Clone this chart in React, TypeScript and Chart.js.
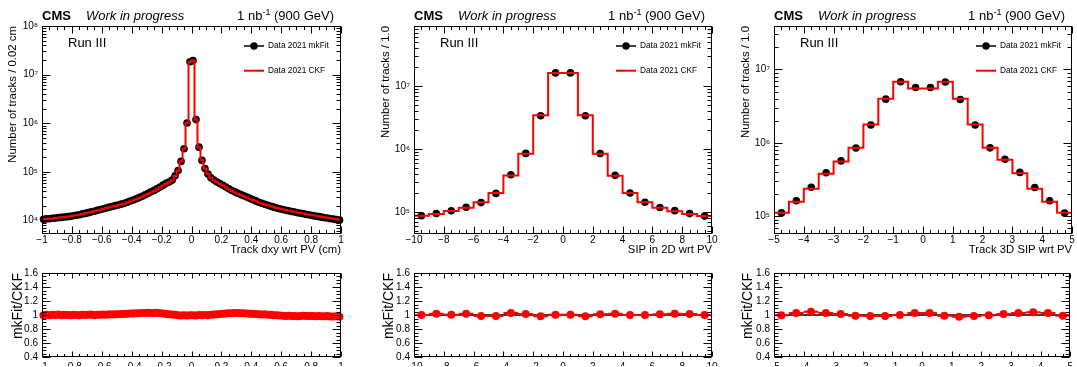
import React, { useEffect, useRef } from 'react';
import { Chart, registerables } from 'chart.js';

Chart.register(...registerables);

const FONT = "'Liberation Sans', Arial, Helvetica, sans-serif";
const RED = '#ff0000';

// ---- Track dxy wrt PV: 100 bins of 0.02 cm in [-1, 1] ----
const dxyCkf = [
  10700, 10840, 10960, 11140, 11300, 11480, 11700, 11890, 12100, 12300,
  12590, 12940, 13300, 13710, 14130, 14550, 15070, 15600, 16220, 16830,
  17500, 18200, 18790, 19450, 20090, 20800, 21530, 22390, 23550, 24770,
  26120, 27540, 29110, 30900, 33110, 35480, 38020, 40740, 44160, 47860,
  52480, 57540, 61660, 67610, 83180, 107200, 166000, 302000, 1023000, 18500000,
  19500000, 1200000, 324000, 174000, 117500, 91200, 75900, 67600, 61700, 56900,
  52500, 47900, 44200, 40700, 38000, 35500, 33500, 31600, 29900, 28200,
  26600, 25100, 23700, 22600, 21600, 20700, 19700, 19000, 18300, 17700,
  17100, 16600, 16200, 15700, 15300, 14800, 14400, 14000, 13600, 13200,
  12900, 12600, 12300, 12000, 11700, 11500, 11200, 11000, 10700, 10500,
];
const dxyRatio = [
  0.995, 1.005, 0.998, 1.004, 1.0, 1.006, 0.997, 1.003, 1.0, 0.996,
  1.004, 1.001, 0.997, 1.005, 0.999, 1.003, 1.006, 0.998, 1.004, 1.002,
  1.007, 1.003, 1.009, 1.006, 1.012, 1.01, 1.015, 1.013, 1.018, 1.022,
  1.02, 1.026, 1.024, 1.029, 1.027, 1.032, 1.03, 1.027, 1.031, 1.025,
  1.022, 1.016, 1.012, 1.006, 1.003, 0.998, 0.994, 0.997, 0.992, 0.996,
  0.998, 0.994, 0.999, 0.995, 1.0, 0.997, 1.004, 1.008, 1.012, 1.016,
  1.018, 1.022, 1.026, 1.024, 1.029, 1.027, 1.024, 1.026, 1.021, 1.018,
  1.019, 1.014, 1.011, 1.008, 1.009, 1.004, 1.002, 0.998, 0.996, 0.993,
  0.989, 0.985, 0.988, 0.984, 0.987, 0.983, 0.986, 0.988, 0.984, 0.987,
  0.985, 0.982, 0.986, 0.983, 0.981, 0.984, 0.98, 0.978, 0.981, 0.975,
];

// ---- SIP in 2D wrt PV: 20 bins of width 1 in [-10, 10] ----
const sip2dCkf = [
  87000, 93000, 104000, 117000, 143000, 200000, 380000, 840000, 3440000, 16100000,
  16100000, 3440000, 840000, 375000, 200000, 143000, 117000, 103000, 93000, 86000,
];
const sip2dRatio = [
  1.0, 1.019, 1.005, 1.019, 0.986, 0.986, 1.028, 1.014, 0.981, 1.005,
  1.005, 0.981, 1.009, 1.019, 1.0, 1.0, 1.009, 1.019, 1.014, 1.0,
];

// ---- Track 3D SIP wrt PV: 20 bins of width 0.5 in [-5, 5] ----
const sip3dCkf = [
  112000, 158000, 238000, 380000, 560000, 860000, 1780000, 4000000, 6800000, 5500000,
  5500000, 6800000, 4000000, 1780000, 860000, 590000, 385000, 238000, 158000, 112000,
];
const sip3dRatio = [
  0.995, 1.03, 1.045, 1.03, 1.015, 0.99, 0.985, 0.985, 1.0, 1.03,
  1.03, 0.99, 0.975, 0.985, 0.995, 1.015, 1.03, 1.04, 1.03, 0.99,
];

// ---- tick labels ----
const dxyTicks = [-1, -0.8, -0.6, -0.4, -0.2, 0, 0.2, 0.4, 0.6, 0.8, 1];
const sip2dTicks = [-10, -8, -6, -4, -2, 0, 2, 4, 6, 8, 10];
const sip3dTicks = [-5, -4, -3, -2, -1, 0, 1, 2, 3, 4, 5];
const ratioTicks = [0.4, 0.6, 0.8, 1, 1.2, 1.4, 1.6];
const decadeTicks = [1e4, 1e5, 1e6, 1e7, 1e8];

const legendLabels = ['Data 2021 mkFit', 'Data 2021 CKF'];

// ---- pad geometry (page pixels) ----
const MAIN_H = 262;
const RATIO_H = 105;
const MAIN_TOP = 26;
const MAIN_BOTTOM = 234;
const RATIO_TOP = 273;
const RATIO_BOTTOM = 358;

interface Panel {
  left: number;
  width: number;
  frameL: number;
  frameR: number;
  xMin: number;
  xMax: number;
  xTicks: number[];
  xMinorStep: number;
  xTitle: string;
  yTitle: string;
  yMin: number;
  yMax: number;
  ckf: number[];
  ratio: number[];
  yTitlePad: number;
  rTitlePad: number;
}

const PANELS: Panel[] = [
  {
    left: 0, width: 360, frameL: 42, frameR: 341,
    xMin: -1, xMax: 1, xTicks: dxyTicks, xMinorStep: 0.05,
    xTitle: 'Track dxy wrt PV (cm)', yTitle: 'Number of tracks / 0.02 cm',
    yMin: 5320, yMax: 1e8, ckf: dxyCkf, ratio: dxyRatio,
    yTitlePad: 5.7, rTitlePad: 9.6,
  },
  {
    left: 360, width: 365, frameL: 414, frameR: 712,
    xMin: -10, xMax: 10, xTicks: sip2dTicks, xMinorStep: 0.5,
    xTitle: 'SIP in 2D wrt PV', yTitle: 'Number of tracks / 1.0',
    yMin: 44700, yMax: 9.0e7, ckf: sip2dCkf, ratio: sip2dRatio,
    yTitlePad: 19.2, rTitlePad: 20.6,
  },
  {
    left: 720, width: 357, frameL: 774, frameR: 1072,
    xMin: -5, xMax: 5, xTicks: sip3dTicks, xMinorStep: 0.25,
    xTitle: 'Track 3D SIP wrt PV', yTitle: 'Number of tracks / 1.0',
    yMin: 57500, yMax: 3.9e7, ckf: sip3dCkf, ratio: sip3dRatio,
    yTitlePad: 19.2, rTitlePad: 19.6,
  },
];

const SUP: Record<string, string> = {
  '0': '\u2070', '1': '\u00b9', '2': '\u00b2', '3': '\u00b3', '4': '\u2074',
  '5': '\u2075', '6': '\u2076', '7': '\u2077', '8': '\u2078', '9': '\u2079', '-': '\u207b',
};
const logLabel = (v: number) => {
  const e = Math.round(Math.log10(v));
  return '10' + String(e).split('').map((c) => SUP[c]).join('');
};
const numLabel = (v: number) => {
  const r = Math.round(v * 1000) / 1000;
  return (r < 0 ? '\u2212' : '') + String(Math.abs(r));
};

function linearMinors(lo: number, hi: number, step: number): number[] {
  const out: number[] = [];
  const n = Math.round((hi - lo) / step);
  for (let i = 0; i <= n; i++) out.push(lo + i * step);
  return out;
}
function logMinors(lo: number, hi: number): number[] {
  const out: number[] = [];
  for (let e = Math.floor(Math.log10(lo)); e <= Math.ceil(Math.log10(hi)); e++) {
    for (let k = 2; k <= 9; k++) {
      const v = k * Math.pow(10, e);
      if (v > lo && v < hi) out.push(v);
    }
  }
  return out;
}

interface FrameCfg {
  xMajor: number[];
  xMinor: number[];
  yMajor: number[];
  yMinor: number[];
  xLen: [number, number];
  yLen: [number, number];
  extra?: (ctx: CanvasRenderingContext2D, chart: Chart) => void;
}

// ROOT-style frame: box with inward ticks on all four sides
function framePlugin(cfg: FrameCfg) {
  return {
    id: 'rootFrame',
    afterDraw(chart: Chart) {
      const { ctx, chartArea: a } = chart;
      const xs = chart.scales.x;
      const ys = chart.scales.y;
      const L = Math.round(a.left) + 0.5;
      const R = Math.round(a.right) - 0.5;
      const T = Math.round(a.top) + 0.5;
      const B = Math.round(a.bottom) - 0.5;
      ctx.save();
      ctx.strokeStyle = '#000';
      ctx.lineWidth = 1;
      ctx.strokeRect(L, T, R - L, B - T);
      ctx.beginPath();
      const xTick = (vals: number[], len: number) => {
        vals.forEach((v) => {
          const px = Math.round(xs.getPixelForValue(v)) + 0.5;
          if (px < L - 0.1 || px > R + 1) return;
          ctx.moveTo(px, B); ctx.lineTo(px, B - len);
          ctx.moveTo(px, T); ctx.lineTo(px, T + len);
        });
      };
      const yTick = (vals: number[], len: number) => {
        vals.forEach((v) => {
          const py = Math.round(ys.getPixelForValue(v)) + 0.5;
          if (py < T - 1 || py > B + 1) return;
          ctx.moveTo(L, py); ctx.lineTo(L + len, py);
          ctx.moveTo(R, py); ctx.lineTo(R - len, py);
        });
      };
      xTick(cfg.xMajor, cfg.xLen[0]);
      xTick(cfg.xMinor, cfg.xLen[1]);
      yTick(cfg.yMajor, cfg.yLen[0]);
      yTick(cfg.yMinor, cfg.yLen[1]);
      ctx.stroke();
      if (cfg.extra) cfg.extra(ctx, chart);
      ctx.restore();
    },
  };
}

function xScale(p: Panel, height: number, showTitle: boolean, labelPad: number) {
  return {
    type: 'linear' as const,
    position: 'bottom' as const,
    min: p.xMin,
    max: p.xMax,
    afterBuildTicks: (s: any) => { s.ticks = p.xTicks.map((v) => ({ value: v })); },
    afterFit: (s: any) => { s.height = height; },
    grid: { display: false, drawTicks: false },
    border: { display: false },
    ticks: {
      autoSkip: false, maxRotation: 0, minRotation: 0, padding: labelPad, color: '#000',
      font: { family: FONT, size: 10 },
      callback: (v: any) => numLabel(Number(v)),
    },
    title: {
      display: showTitle, text: p.xTitle, align: 'end' as const, color: '#000',
      font: { family: FONT, size: 11.3 }, padding: { top: 0, bottom: 5.7 },
    },
  };
}

function buildMain(canvas: HTMLCanvasElement, p: Panel): Chart {
  const n = p.ckf.length;
  const w = (p.xMax - p.xMin) / n;
  const hist = p.ckf.map((v, i) => ({ x: p.xMin + i * w, y: v }));
  hist.push({ x: p.xMax, y: p.ckf[n - 1] });
  const dots = p.ckf.map((v, i) => ({ x: p.xMin + (i + 0.5) * w, y: v * p.ratio[i] }));

  const xMinor = linearMinors(p.xMin, p.xMax, p.xMinorStep).filter(
    (v) => !p.xTicks.some((t) => Math.abs(t - v) < 1e-9),
  );

  const extra = (ctx: CanvasRenderingContext2D, chart: Chart) => {
    const a = chart.chartArea;
    ctx.fillStyle = '#000';
    ctx.textBaseline = 'alphabetic';
    ctx.textAlign = 'left';
    ctx.font = `bold 13px ${FONT}`;
    ctx.fillText('CMS', a.left, 20);
    ctx.font = `italic 13px ${FONT}`;
    ctx.fillText('Work in progress', a.left + 44, 20);

    // luminosity / energy label, right aligned, with superscript
    const right = a.right - 7;
    ctx.font = `13px ${FONT}`;
    const w1 = ctx.measureText('1 nb').width;
    const w3 = ctx.measureText(' (900 GeV)').width;
    ctx.font = `9px ${FONT}`;
    const w2 = ctx.measureText('-1').width;
    const x0 = right - w1 - w2 - w3;
    ctx.font = `13px ${FONT}`;
    ctx.fillText('1 nb', x0, 20);
    ctx.fillText(' (900 GeV)', x0 + w1 + w2, 20);
    ctx.font = `9px ${FONT}`;
    ctx.fillText('-1', x0 + w1, 15);

    ctx.font = `13px ${FONT}`;
    ctx.fillText('Run III', a.left + 26, 47);

    // legend
    const lx = a.left + 212;
    const y1 = 46;
    const y2 = 70.7;
    ctx.beginPath();
    ctx.strokeStyle = '#000';
    ctx.lineWidth = 1.5;
    ctx.moveTo(lx - 10, y1); ctx.lineTo(lx + 10, y1);
    ctx.stroke();
    ctx.beginPath();
    ctx.arc(lx, y1, 3.7, 0, Math.PI * 2);
    ctx.fill();
    ctx.beginPath();
    ctx.strokeStyle = RED;
    ctx.lineWidth = 2;
    ctx.moveTo(lx - 10, y2); ctx.lineTo(lx + 10, y2);
    ctx.stroke();
    ctx.font = `8.3px ${FONT}`;
    ctx.textBaseline = 'middle';
    ctx.fillStyle = '#000';
    ctx.fillText(legendLabels[0], a.left + 226, y1);
    ctx.fillText(legendLabels[1], a.left + 226, y2);
  };

  const plugin = framePlugin({
    xMajor: p.xTicks, xMinor,
    yMajor: decadeTicks, yMinor: logMinors(p.yMin, p.yMax),
    xLen: [7, 3.5], yLen: [8, 4], extra,
  });

  return new Chart(canvas, {
    type: 'scatter',
    data: {
      datasets: [
        {
          type: 'line', label: 'CKF', data: hist, borderColor: RED, borderWidth: 2,
          pointRadius: 0, stepped: 'before', fill: false, tension: 0,
        } as any,
        {
          type: 'scatter', label: 'mkFit', data: dots, pointRadius: 3.8,
          pointBackgroundColor: '#000', pointBorderColor: '#000', pointBorderWidth: 0,
          clip: false,
        } as any,
      ],
    },
    options: {
      animation: false,
      responsive: false,
      events: [],
      layout: { padding: { left: 0, top: MAIN_TOP, right: p.left + p.width - p.frameR, bottom: 0 } },
      plugins: { legend: { display: false }, tooltip: { enabled: false } },
      scales: {
        x: xScale(p, MAIN_H - MAIN_BOTTOM, true, 0) as any,
        y: {
          type: 'logarithmic',
          position: 'left',
          min: p.yMin,
          max: p.yMax,
          afterBuildTicks: (s: any) => {
            s.ticks = decadeTicks.filter((v) => v >= p.yMin && v <= p.yMax * 1.0001).map((v) => ({ value: v }));
          },
          afterFit: (s: any) => { s.width = p.frameL - p.left; },
          grid: { display: false, drawTicks: false },
          border: { display: false },
          ticks: {
            padding: 4, color: '#000', font: { family: FONT, size: 10 },
            callback: (v: any) => logLabel(Number(v)),
          },
          title: {
            display: true, text: p.yTitle, align: 'end', color: '#000',
            font: { family: FONT, size: 11.4 }, padding: { top: p.yTitlePad, bottom: 0 },
          },
        } as any,
      },
    },
    plugins: [plugin as any],
  });
}

function buildRatio(canvas: HTMLCanvasElement, p: Panel): Chart {
  const n = p.ckf.length;
  const w = (p.xMax - p.xMin) / n;
  const dots = p.ratio.map((r, i) => ({ x: p.xMin + (i + 0.5) * w, y: r }));
  const bars: { x: number; y: number | null }[] = [];
  p.ratio.forEach((r, i) => {
    bars.push({ x: p.xMin + i * w, y: r });
    bars.push({ x: p.xMin + (i + 1) * w, y: r });
    bars.push({ x: p.xMin + (i + 1) * w, y: null });
  });
  const unity = [{ x: p.xMin, y: 1 }, { x: p.xMax, y: 1 }];

  const xMinor = linearMinors(p.xMin, p.xMax, p.xMinorStep).filter(
    (v) => !p.xTicks.some((t) => Math.abs(t - v) < 1e-9),
  );
  const yMinor = linearMinors(0.4, 1.6, 0.05).filter(
    (v) => !ratioTicks.some((t) => Math.abs(t - v) < 1e-9),
  );

  const plugin = framePlugin({
    xMajor: p.xTicks, xMinor, yMajor: ratioTicks, yMinor,
    xLen: [5, 2.5], yLen: [8, 4],
  });

  return new Chart(canvas, {
    type: 'scatter',
    data: {
      datasets: [
        {
          type: 'scatter', label: 'ratio', data: dots, pointRadius: 4,
          pointBackgroundColor: RED, pointBorderColor: RED, pointBorderWidth: 0, clip: false,
        } as any,
        {
          type: 'line', label: 'bin width', data: bars, borderColor: RED, borderWidth: 2,
          pointRadius: 0, spanGaps: false, fill: false, tension: 0,
        } as any,
        {
          type: 'line', label: 'unity', data: unity, borderColor: '#000', borderWidth: 1.5,
          pointRadius: 0, fill: false, tension: 0,
        } as any,
      ],
    },
    options: {
      animation: false,
      responsive: false,
      events: [],
      layout: {
        padding: { left: 0, top: RATIO_TOP - MAIN_H, right: p.left + p.width - p.frameR, bottom: 0 },
      },
      plugins: { legend: { display: false }, tooltip: { enabled: false } },
      scales: {
        x: xScale(p, MAIN_H + RATIO_H - RATIO_BOTTOM, false, 4) as any,
        y: {
          type: 'linear',
          position: 'left',
          min: 0.4,
          max: 1.6,
          afterBuildTicks: (s: any) => { s.ticks = ratioTicks.map((v) => ({ value: v })); },
          afterFit: (s: any) => { s.width = p.frameL - p.left; },
          grid: { display: false, drawTicks: false },
          border: { display: false },
          ticks: {
            padding: 4, color: '#000', font: { family: FONT, size: 10 },
            callback: (v: any) => numLabel(Number(v)),
          },
          title: {
            display: true, text: 'mkFit/CKF', align: 'end', color: '#000',
            font: { family: FONT, size: 14 }, padding: { top: p.rTitlePad, bottom: 0 },
          },
        } as any,
      },
    },
    plugins: [plugin as any],
  });
}

export default function App() {
  const refs = useRef<(HTMLCanvasElement | null)[]>([]);

  useEffect(() => {
    const charts: Chart[] = [];
    PANELS.forEach((p, i) => {
      const m = refs.current[2 * i];
      const r = refs.current[2 * i + 1];
      if (m) charts.push(buildMain(m, p));
      if (r) charts.push(buildRatio(r, p));
    });
    return () => charts.forEach((c) => c.destroy());
  }, []);

  return (
    <div
      style={{
        position: 'absolute', left: 0, top: 0, width: 1077, height: 367,
        background: '#fff', overflow: 'hidden',
      }}
    >
      {PANELS.map((p, i) => (
        <React.Fragment key={i}>
          <canvas
            ref={(el) => { refs.current[2 * i] = el; }}
            width={p.width}
            height={MAIN_H}
            style={{ position: 'absolute', left: p.left, top: 0, width: p.width, height: MAIN_H }}
          />
          <canvas
            ref={(el) => { refs.current[2 * i + 1] = el; }}
            width={p.width}
            height={RATIO_H}
            style={{ position: 'absolute', left: p.left, top: MAIN_H, width: p.width, height: RATIO_H }}
          />
        </React.Fragment>
      ))}
    </div>
  );
}
